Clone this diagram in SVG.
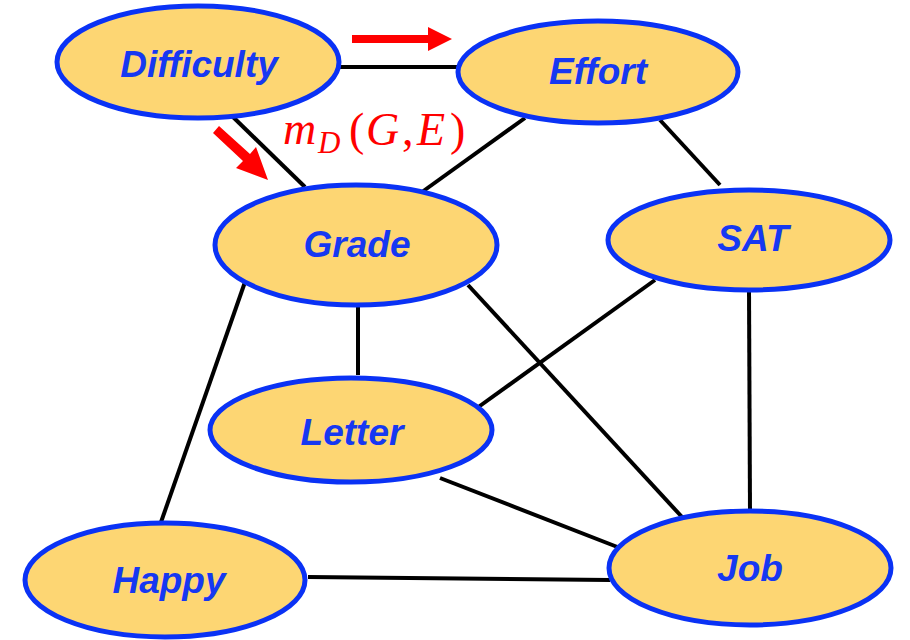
<svg xmlns="http://www.w3.org/2000/svg" width="910" height="640" viewBox="0 0 910 640">
<style>
.n ellipse{fill:#FDD673;stroke:#0A32F5;stroke-width:5}
.n text{font-family:"Liberation Sans",Arial,sans-serif;font-weight:bold;font-style:italic;font-size:37px;fill:#1638F2;text-anchor:middle}
.e line{stroke:#000;stroke-width:4}
.r{fill:#FF0000}
.m{font-family:"Liberation Serif","DejaVu Serif",serif;font-size:46px;fill:#FF0000}
.m .i{font-style:italic}
</style>
<rect width="910" height="640" fill="#fff"/>
<g id="edges" class="e">
<line x1="340" y1="67" x2="457" y2="67"/>
<line x1="232" y1="116" x2="305" y2="187"/>
<line x1="525" y1="118" x2="422" y2="192"/>
<line x1="660" y1="120" x2="720" y2="185"/>
<line x1="358" y1="305" x2="358" y2="375"/>
<line x1="245" y1="282" x2="160" y2="525"/>
<line x1="468" y1="285" x2="682" y2="517"/>
<line x1="655" y1="280" x2="477" y2="408"/>
<line x1="749" y1="290" x2="750" y2="512"/>
<line x1="440" y1="478" x2="620" y2="548"/>
<line x1="308" y1="577" x2="610" y2="580"/>
</g>
<g id="arrows">
<path class="r" d="M352,35 H428 V27 L452,39 L428,51 V43 H352 Z"/>
<path class="r" d="M219,126 L250,154 L256,147 L268,180 L236,168 L243,161 L213,133 Z"/>
</g>
<text id="label" class="m" y="144"><tspan class="i" x="283">m</tspan><tspan class="i" x="318" y="153" font-size="31">D</tspan><tspan x="349" y="145">(</tspan><tspan class="i" x="366">G</tspan><tspan x="402">,</tspan><tspan class="i" x="417">E</tspan><tspan x="450">)</tspan></text>
<g id="Difficulty" class="n"><ellipse cx="198" cy="62" rx="141" ry="56"/><text x="199" y="77">Difficulty</text></g>
<g id="Effort" class="n"><ellipse cx="598" cy="72" rx="140" ry="51"/><text x="598" y="84">Effort</text></g>
<g id="Grade" class="n"><ellipse cx="356" cy="245" rx="141" ry="60"/><text x="357" y="257">Grade</text></g>
<g id="SAT" class="n"><ellipse cx="749" cy="240" rx="141" ry="50"/><text x="753" y="251">SAT</text></g>
<g id="Letter" class="n"><ellipse cx="351" cy="430" rx="141" ry="52"/><text x="352" y="445">Letter</text></g>
<g id="Happy" class="n"><ellipse cx="165" cy="580" rx="140" ry="57"/><text x="169" y="593">Happy</text></g>
<g id="Job" class="n"><ellipse cx="750" cy="568" rx="141" ry="57"/><text x="750" y="581">Job</text></g>
</svg>
